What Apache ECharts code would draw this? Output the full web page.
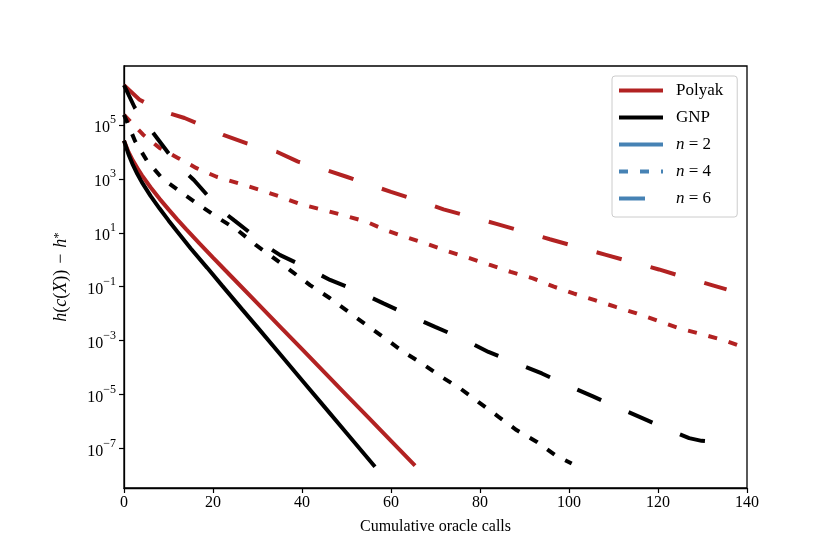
<!DOCTYPE html>
<html>
<head>
<meta charset="utf-8">
<script src="https://cdn.jsdelivr.net/npm/echarts@6/dist/echarts.min.js"></script>
<style>
  html, body { margin: 0; background: #fff; }
  #main { width: 830px; height: 554px; }
</style>
</head>
<body>
<div id="main"></div>
<script>
// x: cumulative oracle calls, y: log10 of h(c(X)) - h*
var xTicks = [0, 20, 40, 60, 80, 100, 120, 140];
var yTickExp = [-7, -5, -3, -1, 1, 3, 5];

var polyak2X = [0, 1, 2, 3, 4, 6, 8, 10, 12, 14, 17, 20, 22.7, 25, 30, 35, 40, 45, 50, 55, 60, 65.4];
var polyak2Y = [4.42, 4.0, 3.68, 3.4, 3.14, 2.68, 2.26, 1.87, 1.49, 1.13, 0.6, 0.08, -0.38, -0.77, -1.62, -2.47, -3.32, -4.17, -5.02, -5.87, -6.72, -7.64];

var polyak4X = [0, 4.3, 8, 12.1, 16.3, 20.8, 25.7, 30.6, 35.1, 39.9, 44.8, 49.5, 54.5, 58.8, 63.5, 68.2, 73, 77.8, 82.4, 86.9, 91.9, 96.6, 101, 105.8, 110.5, 115.2, 120, 124.9, 129.8, 134.7, 140];
var polyak4Y = [5.38, 4.64, 4.15, 3.78, 3.4, 3.08, 2.84, 2.59, 2.34, 2.05, 1.85, 1.64, 1.41, 1.1, 0.83, 0.58, 0.3, 0.05, -0.2, -0.45, -0.69, -1.0, -1.25, -1.5, -1.75, -1.99, -2.27, -2.55, -2.76, -2.98, -3.29];

var polyak6X = [0, 3.5, 8, 13.6, 18, 22.3, 27.6, 34.3, 39.1, 45, 50, 55, 60, 66, 71.8, 77.8, 83.7, 90, 95.7, 102, 108.1, 114, 120.2, 126, 132.1, 135.4];
var polyak6Y = [6.48, 5.94, 5.55, 5.26, 4.95, 4.63, 4.32, 4.01, 3.64, 3.35, 3.08, 2.8, 2.52, 2.2, 1.87, 1.6, 1.33, 1.03, 0.76, 0.47, 0.19, -0.08, -0.36, -0.65, -0.94, -1.1];

var gnp2X = [0, 1, 2, 3, 4, 6, 8, 10, 12, 15, 18.7, 22, 26.6, 30, 35, 40, 45, 50, 56.4];
var gnp2Y = [4.42, 3.92, 3.52, 3.18, 2.88, 2.36, 1.9, 1.46, 1.04, 0.42, -0.3, -0.95, -1.85, -2.51, -3.49, -4.47, -5.45, -6.43, -7.68];

var gnp4X = [0, 2.5, 5.2, 8.6, 12.7, 16.9, 21.3, 25.5, 29.6, 33.3, 37.6, 41.8, 46.3, 50.4, 54.5, 58.7, 62.8, 66.9, 71.3, 75.5, 79.6, 84.1, 88.2, 92.7, 96.9, 100.6];
var gnp4Y = [5.38, 4.4, 3.66, 3.02, 2.52, 2.03, 1.54, 1.1, 0.55, 0.11, -0.42, -0.94, -1.43, -1.93, -2.42, -2.92, -3.42, -3.84, -4.34, -4.77, -5.27, -5.82, -6.32, -6.75, -7.25, -7.56];

var gnp6X = [0, 2.4, 5, 7.5, 10, 12.5, 15.7, 18.7, 21, 24.7, 28.5, 32, 35.1, 39.9, 46.3, 51.9, 58.3, 63.9, 69.9, 75.9, 81.9, 87.5, 93.9, 99.5, 105.5, 111.5, 117.5, 123.4, 127, 129.8, 132, 135.8];
var gnp6Y = [6.48, 5.65, 5.05, 4.5, 3.95, 3.45, 2.96, 2.4, 1.95, 1.47, 0.98, 0.5, 0.17, -0.2, -0.75, -1.12, -1.62, -2.05, -2.49, -2.92, -3.42, -3.79, -4.22, -4.65, -5.08, -5.52, -5.95, -6.38, -6.62, -6.72, -6.75, -6.75];

var legendNames = ['Polyak', 'GNP', 'n = 2', 'n = 4', 'n = 6'];

var RED = '#b22222', BLACK = '#000000', BLUE = '#4682b4';
var DASH4 = [9, 12], DASH6 = [26, 30];
var FONT = 'Liberation Serif';

function pairs(xs, ys) {
  return xs.map(function (x, i) { return [x, ys[i]]; });
}

function curve(name, xs, ys, color, dash) {
  return {
    name: name, type: 'line', data: pairs(xs, ys),
    showSymbol: false, symbol: 'none',
    lineStyle: { color: color, width: 4, type: dash },
    itemStyle: { color: color }
  };
}

function legendOnly(name, color, dash) {
  return {
    name: name, type: 'line', data: [], symbol: 'none',
    lineStyle: { color: color, width: 4, type: dash },
    itemStyle: { color: color }
  };
}

var chart = echarts.init(document.getElementById('main'));
chart.setOption({
  animation: false,
  backgroundColor: '#fff',
  textStyle: { fontFamily: FONT, color: '#000' },
  grid: { left: 124, right: 83, top: 66, bottom: 66, show: true, borderColor: '#000', borderWidth: 1.3, backgroundColor: 'transparent' },
  legend: {
    data: legendNames,
    orient: 'vertical',
    left: 612, top: 76,
    itemWidth: 44, itemHeight: 14, itemGap: 10,
    padding: [6, 14, 10, 5],
    borderColor: '#cccccc', borderWidth: 1, borderRadius: 3,
    backgroundColor: 'rgba(255,255,255,0.8)',
    itemStyle: { opacity: 0 },
    lineStyle: { width: 4 },
    formatter: function (name) {
      if (name.charAt(0) === 'n') return '{i|n}{r|' + name.slice(1) + '}';
      return '{r|' + name + '}';
    },
    textStyle: {
      padding: [0, 0, 0, 8],
      rich: {
        i: { fontFamily: FONT, fontSize: 17, fontStyle: 'italic', color: '#000' },
        r: { fontFamily: FONT, fontSize: 17, color: '#000' }
      }
    }
  },
  xAxis: {
    type: 'value', min: 0, max: 140, interval: 20,
    name: 'Cumulative oracle calls', nameLocation: 'middle', nameGap: 31,
    nameTextStyle: { fontFamily: FONT, fontSize: 16, color: '#000' },
    axisLine: { onZero: false, lineStyle: { color: '#000', width: 1.3 } },
    axisTick: { length: 5, lineStyle: { color: '#000', width: 1.2 } },
    axisLabel: { fontFamily: FONT, fontSize: 16, color: '#000', margin: 7 },
    splitLine: { show: false }
  },
  yAxis: {
    type: 'value', min: -8.47, max: 7.19,
    name: '{i|h}{r|(}{i|c}{r|(}{i|X}{r|))\u2004−\u2004}{i|h}{s|*}',
    nameLocation: 'middle', nameGap: 54,
    nameTextStyle: {
      rich: {
        i: { fontFamily: FONT, fontSize: 18, fontStyle: 'italic', color: '#000' },
        r: { fontFamily: FONT, fontSize: 18, color: '#000' },
        s: { fontFamily: FONT, fontSize: 13, color: '#000', verticalAlign: 'top', lineHeight: 16 }
      }
    },
    axisLine: { onZero: false, lineStyle: { color: '#000', width: 1.3 } },
    axisTick: { length: 5, customValues: yTickExp, lineStyle: { color: '#000', width: 1.2 } },
    axisLabel: {
      customValues: yTickExp, margin: 8,
      formatter: function (v) {
        var e = v < 0 ? '−' + (-v) : '' + v;
        return '{b|10}{s|' + e + '}';
      },
      rich: {
        b: { fontFamily: FONT, fontSize: 16, color: '#000', lineHeight: 22, verticalAlign: 'bottom' },
        s: { fontFamily: FONT, fontSize: 12, color: '#000', lineHeight: 14, verticalAlign: 'top' }
      }
    },
    splitLine: { show: false }
  },
  series: [
    curve('Polyak n=2', polyak2X, polyak2Y, RED, 'solid'),
    curve('Polyak n=4', polyak4X, polyak4Y, RED, DASH4),
    curve('Polyak n=6', polyak6X, polyak6Y, RED, DASH6),
    curve('GNP n=2', gnp2X, gnp2Y, BLACK, 'solid'),
    curve('GNP n=4', gnp4X, gnp4Y, BLACK, DASH4),
    curve('GNP n=6', gnp6X, gnp6Y, BLACK, DASH6),
    legendOnly('Polyak', RED, 'solid'),
    legendOnly('GNP', BLACK, 'solid'),
    legendOnly('n = 2', BLUE, 'solid'),
    legendOnly('n = 4', BLUE, DASH4),
    legendOnly('n = 6', BLUE, DASH6)
  ]
});
</script>
</body>
</html>
